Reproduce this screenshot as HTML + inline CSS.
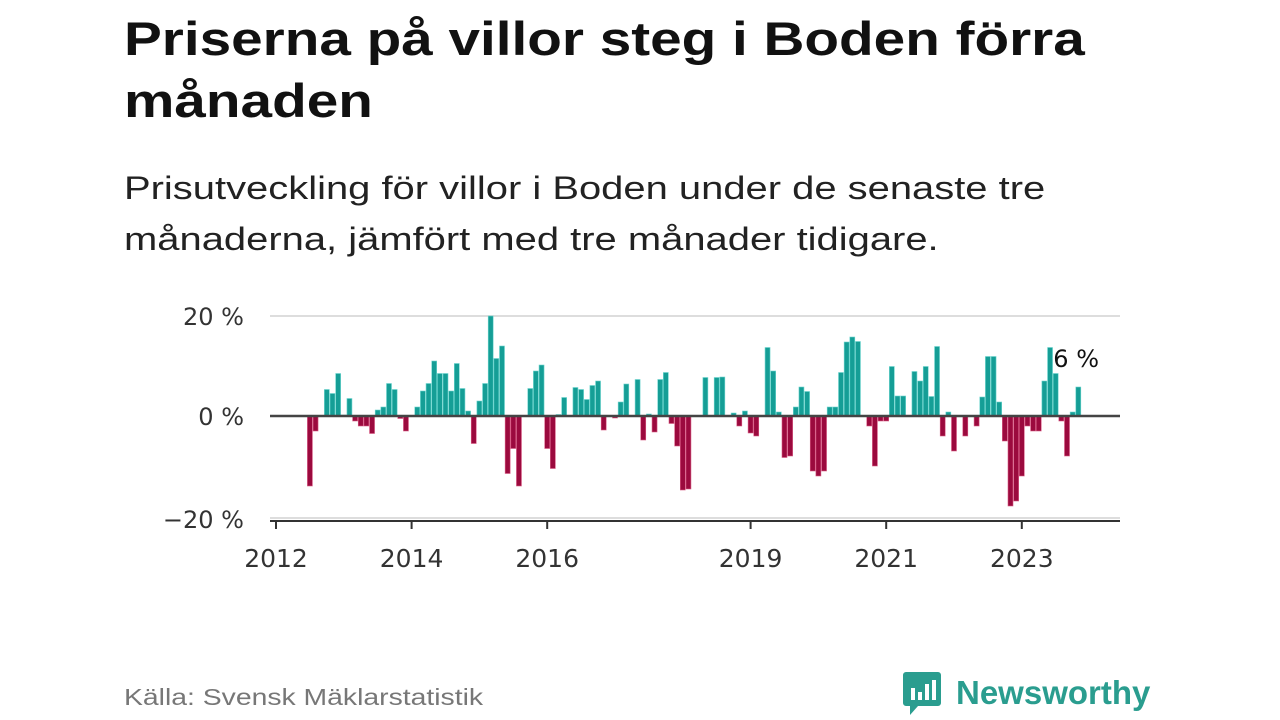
<!DOCTYPE html>
<html><head><meta charset="utf-8"><style>
body{margin:0;width:1280px;height:720px;background:#fff;overflow:hidden;font-family:"Liberation Sans",sans-serif;position:relative}
.t{position:absolute;left:124px;top:8px;font-size:47px;font-weight:bold;line-height:62px;color:#111;margin:0;transform:scaleX(1.206);transform-origin:0 0;white-space:nowrap}
.s{position:absolute;left:124px;top:163px;font-size:32px;line-height:51px;color:#222;transform:scaleX(1.248);transform-origin:0 0;white-space:nowrap}
.src{position:absolute;left:124px;top:684px;font-size:23px;color:#777;transform:scaleX(1.232);transform-origin:0 0;white-space:nowrap}
.logo{position:absolute;left:902px;top:670px;display:flex;align-items:center}
.logo span{font-size:33px;font-weight:bold;color:#2a9d8f;margin-left:14px}
</style></head><body>
<h1 class="t">Priserna på villor steg i Boden förra<br>månaden</h1>
<div class="s">Prisutveckling för villor i Boden under de senaste tre<br>månaderna, jämfört med tre månader tidigare.</div>
<svg id="chart" width="1280" height="720" style="position:absolute;left:0;top:0"></svg>
<div class="src">Källa: Svensk Mäklarstatistik</div>
<div class="logo">
<svg width="40" height="46" viewBox="0 0 40 46"><path d="M4 2h32a3 3 0 0 1 3 3v28a3 3 0 0 1-3 3H16l-8 9v-9H4a3 3 0 0 1-3-3V5a3 3 0 0 1 3-3z" fill="#2a9d8f"/><rect x="9" y="18" width="4" height="12" fill="#fff"/><rect x="16" y="22" width="4" height="8" fill="#fff"/><rect x="23" y="14" width="4" height="16" fill="#fff"/><rect x="30" y="10" width="4" height="20" fill="#fff"/></svg>
<span>Newsworthy</span></div>
<script>
const values=[null,null,null,null,null,null,-14,-3,null,5.3,4.5,8.5,0.2,3.5,-1,-2,-2,-3.5,1.2,1.8,6.5,5.3,-0.5,-3,null,1.8,5,6.5,11,8.5,8.5,5,10.5,5.5,1,-5.5,3,6.5,20,11.5,14,-11.5,-6.5,-14,null,5.5,9,10.2,-6.5,-10.5,0.3,3.7,null,5.7,5.3,3.3,6.1,7,-2.8,null,-0.4,2.8,6.4,null,7.3,-4.8,0.4,-3.2,7.3,8.7,-1.5,-6,-14.8,-14.6,null,null,7.7,null,7.7,7.8,null,0.6,-2,1,-3.4,-4,null,13.7,9,0.8,-8.3,-8,1.8,5.8,4.9,-11,-12,-11,1.8,1.8,8.7,14.8,15.8,14.9,null,-2,-10,-1,-1,9.9,4,4,null,8.9,7,9.9,3.9,13.9,-4,0.8,-7,null,-4,null,-2,3.8,11.9,11.9,2.8,-5,-18,-17,-12,-2,-3,-3,7,13.7,8.5,-1,-8,0.8,5.8];
const yTicks=[20,0,-20];
const yTickLabels=["20 %","0 %","−20 %"];
const xLabelYears=[2012,2014,2016,2019,2021,2023];
const lastLabel="6 %";
const NS="http://www.w3.org/2000/svg";
const svg=document.getElementById('chart');
const x=i=>276+i*5.65;
const xYear=yr=>x((yr-2012)*12);
const y=v=>416-v*5;
const TF='"DejaVu Sans", sans-serif';
function el(t,a){const e=document.createElementNS(NS,t);for(const k in a)e.setAttribute(k,a[k]);svg.appendChild(e);return e;}
yTicks.forEach((t,i)=>{
 if(t!==0){const g=el('line',{x1:270,x2:1120,y1:y(t)+(t<0?2:0),y2:y(t)+(t<0?2:0),stroke:'#ddd','stroke-width':2});
 
 }
 const l=el('text',{x:244,y:y(t)+(t<0?12:9),'text-anchor':'end','font-size':24,'font-family':TF,fill:'#333'});
 l.textContent=yTickLabels[i];
 
 
});
values.forEach((v,i)=>{
 if(v===null)return;
 const r=el('rect',{x:x(i)-2.5,width:5,y:v>=0?y(v):y(0),height:Math.abs(v)*5,fill:v>=0?'#159e96':'#9b0a3e',stroke:v>=0?'#6fd6cf':'#d85a84','stroke-width':0.6});
 
 
});
const z=el('line',{x1:270,x2:1120,y1:y(0),y2:y(0),stroke:'#444','stroke-width':2.5});


const ax=el('line',{x1:270,x2:1120,y1:521,y2:521,stroke:'#333','stroke-width':2});


xLabelYears.forEach(yr=>{
 const tk=el('line',{x1:xYear(yr),x2:xYear(yr),y1:521,y2:529,stroke:'#333','stroke-width':2});
 
 
 const l=el('text',{x:xYear(yr),y:567,'text-anchor':'middle','font-size':25,'font-family':TF,fill:'#333'});
 l.textContent=yr;
 
 
});
const li=values.length-1;
const lab=el('text',{x:x(li)-25,y:367,'font-size':24,'font-family':TF,fill:'#111',stroke:'#fff','stroke-width':4,'paint-order':'stroke'});
lab.textContent=lastLabel;


</script>
</body></html>
